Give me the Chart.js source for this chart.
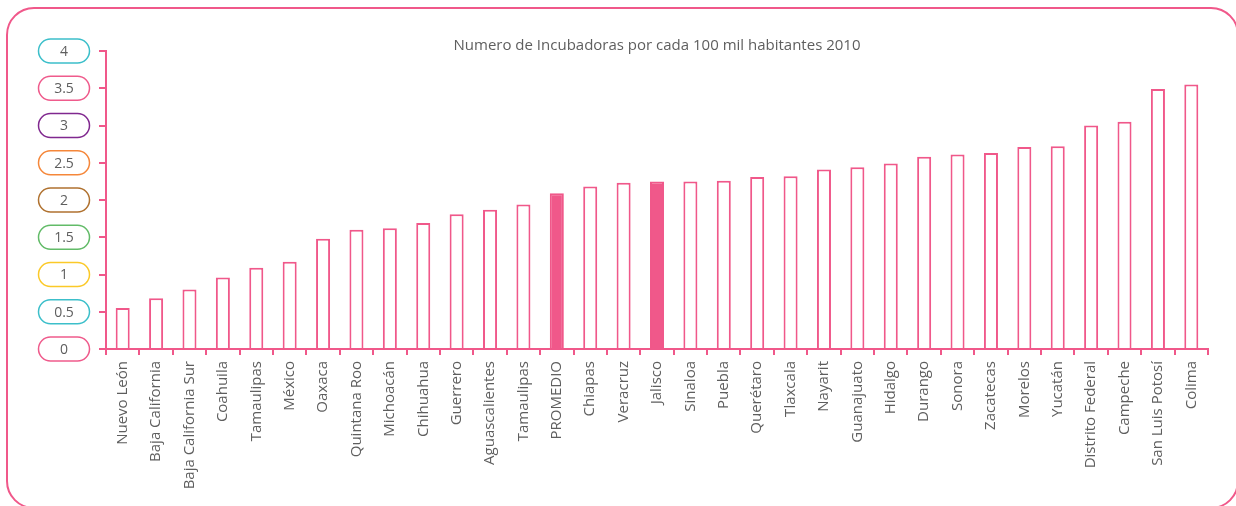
<!DOCTYPE html>
<html lang="es">
<head>
<meta charset="utf-8">
<title>Incubadoras por cada 100 mil habitantes 2010</title>
<script src="https://cdn.jsdelivr.net/npm/chart.js@4/dist/chart.umd.min.js"></script>
<style>
  html, body { margin: 0; padding: 0; background: #fff; overflow: hidden; }
  #marco {
    position: absolute; left: 6px; top: 7px; width: 1229px; height: 498px;
    border: 2px solid #f0588a; border-radius: 28px;
  }
  #lienzo { position: absolute; left: 0; top: 0; width: 1236px; height: 506px; }
</style>
</head>
<body>
<div id="marco"></div>
<div id="lienzo"><canvas id="grafico"></canvas></div>
<script>
  const titulo = 'Numero de Incubadoras por cada 100 mil habitantes 2010';

  const estados = [
    'Nuevo León', 'Baja California', 'Baja California Sur', 'Coahuila', 'Tamaulipas',
    'México', 'Oaxaca', 'Quintana Roo', 'Michoacán', 'Chihuahua', 'Guerrero',
    'Aguascalientes', 'Tamaulipas', 'PROMEDIO', 'Chiapas', 'Veracruz', 'Jalisco',
    'Sinaloa', 'Puebla', 'Querétaro', 'Tlaxcala', 'Nayarit', 'Guanajuato', 'Hidalgo',
    'Durango', 'Sonora', 'Zacatecas', 'Morelos', 'Yucatán', 'Distrito Federal',
    'Campeche', 'San Luis Potosí', 'Colima'
  ];

  const incubadoras = [
    0.55, 0.68, 0.80, 0.96, 1.09, 1.17, 1.48, 1.60, 1.62, 1.69, 1.81,
    1.87, 1.94, 2.09, 2.18, 2.23, 2.25, 2.25, 2.26, 2.31, 2.32, 2.41,
    2.44, 2.49, 2.58, 2.61, 2.63, 2.71, 2.72, 3.00, 3.05, 3.49, 3.55
  ];

  // barras resaltadas (rellenas)
  const resaltados = ['PROMEDIO', 'Jalisco'];

  const marcasY = [0, 0.5, 1, 1.5, 2, 2.5, 3, 3.5, 4];
  const etiquetasY = ['0', '0.5', '1', '1.5', '2', '2.5', '3', '3.5', '4'];

  const rosa = '#f0588a';
  const gris = '#5e5e5e';
  const coloresPastilla = ['#ef5b8c', '#3cbfca', '#fbc928', '#62bb68', '#b07230',
                           '#f5873a', '#80288f', '#ef5b8c', '#3cbfca'];

  const fuente = "'Open Sans', sans-serif";

  function pastilla(ctx, x, y, w, h, r) {
    ctx.beginPath();
    ctx.moveTo(x + r, y);
    ctx.lineTo(x + w - r, y);
    ctx.arc(x + w - r, y + r, r, -Math.PI / 2, Math.PI / 2);
    ctx.lineTo(x + r, y + h);
    ctx.arc(x + r, y + r, r, Math.PI / 2, Math.PI * 1.5);
    ctx.closePath();
  }

  // etiquetas del eje Y dentro de pastillas de colores, y el titulo
  const decoraciones = {
    id: 'decoraciones',
    afterDraw(chart) {
      const ctx = chart.ctx;
      const y = chart.scales.y;
      const area = chart.chartArea;
      ctx.save();
      ctx.font = '14px ' + fuente;
      ctx.textAlign = 'center';
      ctx.textBaseline = 'middle';
      marcasY.forEach((v, i) => {
        const py = y.getPixelForValue(v);
        pastilla(ctx, 38.5, py - 12, 51, 24, 12);
        ctx.lineWidth = 1.5;
        ctx.strokeStyle = coloresPastilla[i];
        ctx.stroke();
        ctx.fillStyle = gris;
        ctx.fillText(etiquetasY[i], 64, py + 1);
      });
      ctx.font = '15px ' + fuente;
      ctx.fillStyle = gris;
      ctx.fillText(titulo, (area.left + area.right) / 2, 46);
      ctx.restore();
    }
  };

  new Chart(document.getElementById('grafico'), {
    type: 'bar',
    data: {
      labels: estados,
      datasets: [{
        data: incubadoras,
        backgroundColor: estados.map(e => resaltados.includes(e) ? rosa : '#ffffff'),
        borderColor: rosa,
        borderWidth: 2,
        borderSkipped: 'bottom',
        categoryPercentage: 1,
        barPercentage: 0.42
      }]
    },
    options: {
      responsive: true,
      maintainAspectRatio: false,
      animation: false,
      layout: { padding: { left: 0, right: 28, top: 51, bottom: 0 } },
      plugins: {
        legend: { display: false },
        tooltip: { enabled: false }
      },
      scales: {
        x: {
          grid: { drawOnChartArea: false, color: rosa, lineWidth: 2, tickLength: 6, offset: true },
          border: { color: rosa, width: 2 },
          ticks: {
            color: gris,
            font: { family: fuente, size: 15 },
            minRotation: 90,
            maxRotation: 90,
            autoSkip: false,
            padding: 6
          },
          afterFit: (escala) => { escala.height = 157; }
        },
        y: {
          min: 0,
          max: 4,
          grid: { drawOnChartArea: false, color: rosa, lineWidth: 2, tickLength: 7 },
          border: { color: rosa, width: 2 },
          ticks: { display: false, stepSize: 0.5 },
          afterFit: (escala) => { escala.width = 106; }
        }
      }
    },
    plugins: [decoraciones]
  });
</script>
</body>
</html>
